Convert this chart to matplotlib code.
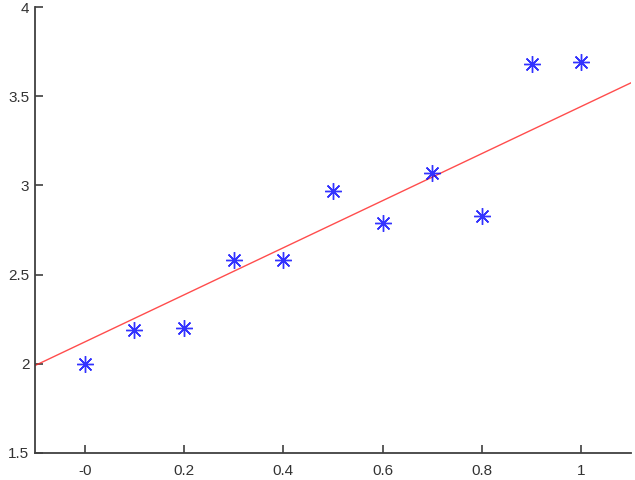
import matplotlib
matplotlib.use("Agg")
import matplotlib.pyplot as plt

x_pts = [0.0, 0.1, 0.2, 0.3, 0.4, 0.5, 0.6, 0.7, 0.8, 0.9, 1.0]
y_pts = [2.00, 2.19, 2.20, 2.58, 2.58, 2.97, 2.79, 3.07, 2.83, 3.68, 3.69]

line_x = [-0.1, 1.1]
line_y = [1.99, 3.575]

x_ticks = [0.0, 0.2, 0.4, 0.6, 0.8, 1.0]
x_labels = ["-0", "0.2", "0.4", "0.6", "0.8", "1"]
y_ticks = [1.5, 2.0, 2.5, 3.0, 3.5, 4.0]
y_labels = ["1.5", "2", "2.5", "3", "3.5", "4"]

plt.rcParams["font.family"] = ["Liberation Sans", "DejaVu Sans"]

fig = plt.figure(figsize=(6.35, 4.8), dpi=100)
ax = fig.add_axes([0.0551, 0.0563, 0.9386, 0.9291])

ax.plot(line_x, line_y, color="#ff2020", lw=1.0, alpha=0.8)
ax.plot(x_pts, y_pts, linestyle="none", marker=(8, 2, 0), markersize=12,
        markeredgewidth=1.0, color="#0000ff", alpha=0.8)

ax.set_xlim(-0.1, 1.1)
ax.set_ylim(1.5, 4.0)
ax.set_xticks(x_ticks, x_labels)
ax.set_yticks(y_ticks, y_labels)

for side in ["top", "right"]:
    ax.spines[side].set_visible(False)
for side in ["left", "bottom"]:
    ax.spines[side].set_color("#404040")
    ax.spines[side].set_linewidth(1.3)

ax.tick_params(direction="in", length=6, width=1.2, color="#404040",
               labelsize=11, labelcolor="#333333")
ax.tick_params(axis="x", pad=8)
ax.tick_params(axis="y", pad=4)

fig.savefig("out.png", dpi=100)
